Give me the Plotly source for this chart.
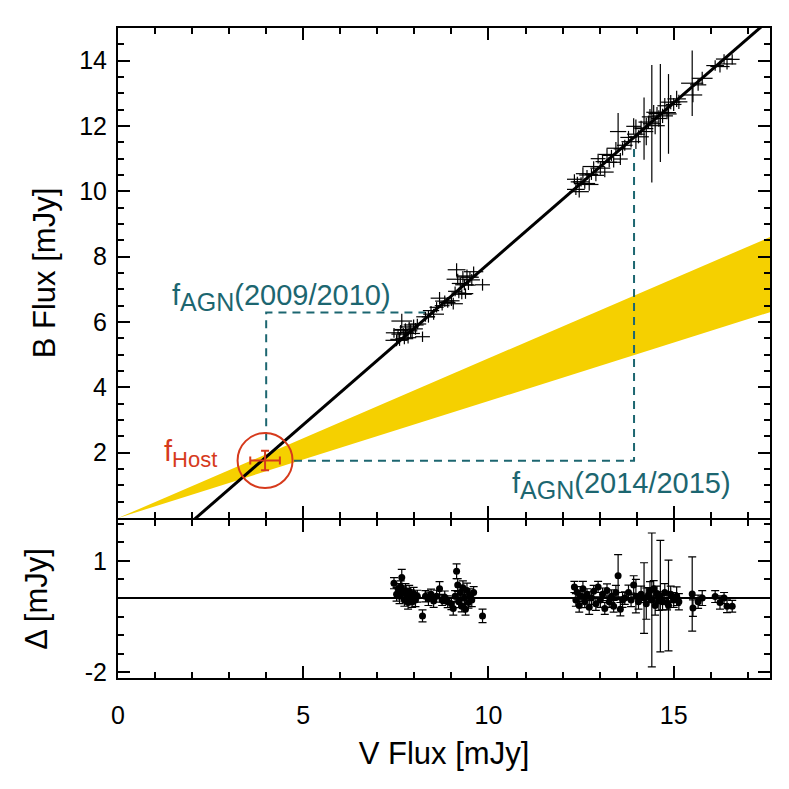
import plotly.graph_objects as go

# V / B light-curve fluxes (mJy)
v_flux = [7.45, 7.52, 7.56, 7.60, 7.63, 7.66, 7.70, 7.73, 7.76, 7.80, 7.83, 7.86, 7.90, 7.94, 7.98, 8.03, 8.08,
          8.22, 8.30, 8.38, 8.45, 8.52, 8.60, 8.68, 8.75, 8.82, 8.90,
          9.00, 9.05, 9.10, 9.14, 9.17, 9.20, 9.24, 9.28, 9.31, 9.35, 9.38, 9.42, 9.46, 9.50, 9.55, 9.60, 9.84,
          12.32, 12.36, 12.40, 12.45, 12.50, 12.55, 12.60, 12.66, 12.72, 12.78, 12.84, 12.90, 12.96, 13.02, 13.08,
          13.14, 13.20, 13.26, 13.32, 13.38, 13.44, 13.50, 13.56, 13.62, 13.68,
          13.78, 13.85, 13.92, 13.98, 14.05, 14.12, 14.20, 14.26, 14.32, 14.36, 14.41, 14.46, 14.50, 14.55, 14.60,
          14.64, 14.70, 14.76, 14.82, 14.86, 14.92, 15.00, 15.08, 15.14,
          15.50, 15.52, 15.66, 15.77, 16.12, 16.25, 16.36, 16.44, 16.58]
v_err = [0.22, 0.30, 0.18, 0.25, 0.20, 0.28, 0.17, 0.24, 0.30, 0.19, 0.22, 0.26, 0.18, 0.21, 0.27, 0.20, 0.24,
         0.20, 0.25, 0.18, 0.22, 0.28, 0.19, 0.24, 0.20, 0.26, 0.21,
         0.22, 0.26, 0.19, 0.24, 0.30, 0.20, 0.23, 0.27, 0.18, 0.25, 0.21, 0.28, 0.19, 0.24, 0.22, 0.26, 0.20,
         0.20, 0.24, 0.18, 0.26, 0.22, 0.19, 0.28, 0.21, 0.25, 0.18, 0.30, 0.22, 0.20, 0.27, 0.19,
         0.24, 0.23, 0.21, 0.26, 0.18, 0.25, 0.22, 0.20, 0.24, 0.21,
         0.22, 0.26, 0.20, 0.24, 0.28, 0.21, 0.25, 0.19, 0.27, 0.22, 0.24, 0.20, 0.26, 0.23, 0.21,
         0.25, 0.28, 0.20, 0.24, 0.22, 0.26, 0.21, 0.25, 0.23,
         0.30, 0.25, 0.22, 0.28, 0.24, 0.26, 0.22, 0.25, 0.20]
b_flux = [5.67, 5.44, 5.63, 5.47, 5.75, 6.03, 5.67, 5.49, 5.77, 5.69, 5.52, 5.85, 5.73, 5.65, 5.91, 5.79, 5.94,
          5.55, 6.16, 6.16, 6.35, 6.24, 6.45, 6.73, 6.50, 6.64, 6.60,
          6.65, 6.56, 6.94, 7.60, 7.31, 6.89, 7.18, 6.85, 7.38, 7.14, 6.87, 7.41, 7.13, 7.37, 7.29, 7.54, 7.14,
          10.37, 10.06, 10.29, 9.99, 10.29, 10.54, 10.24, 10.50, 10.21, 10.52, 10.76, 10.49, 11.00, 10.71, 10.91,
          10.59, 11.13, 10.89, 11.10, 10.89, 11.32, 11.83, 10.99, 11.30, 11.41,
          11.65, 11.52, 11.99, 11.75, 11.67, 11.94, 11.92, 11.83, 12.12, 12.28, 12.07, 12.42, 12.01, 12.38, 12.23,
          12.40, 12.31, 12.62, 12.41, 12.37, 12.73, 12.66, 12.83, 12.74,
          13.31, 12.95, 13.26, 13.46, 13.85, 13.82, 14.05, 13.90, 14.04]
b_err = [0.15, 0.18, 0.14, 0.20, 0.16, 0.22, 0.15, 0.17, 0.19, 0.14, 0.18, 0.16, 0.20, 0.15, 0.17, 0.18, 0.16,
         0.16, 0.15, 0.18, 0.14, 0.17, 0.16, 0.19, 0.15, 0.17, 0.16,
         0.16, 0.18, 0.15, 0.20, 0.17, 0.16, 0.19, 0.15, 0.18, 0.17, 0.16, 0.20, 0.15, 0.17, 0.18, 0.16, 0.18,
         0.15, 0.17, 0.16, 0.18, 0.14, 0.20, 0.16, 0.15, 0.19, 0.17, 0.16, 0.18, 0.15, 0.20, 0.17,
         0.16, 0.18, 0.15, 0.17, 0.16, 0.19, 0.57, 0.18, 0.20, 0.17,
         0.20, 0.18, 0.25, 0.45, 0.20, 0.22, 0.95, 0.42, 0.20, 0.24, 1.80, 0.22, 0.26, 0.20, 0.25,
         1.50, 0.22, 0.24, 0.20, 1.22, 0.22, 0.20, 0.25, 0.22,
         1.00, 0.22, 0.18, 0.20, 0.16, 0.18, 0.15, 0.17, 0.16]
# residuals of B about the fitted line (mJy)
resid = [0.40, 0.10, 0.25, 0.05, 0.30, 0.55, 0.15, -0.05, 0.20, 0.08, -0.12, 0.18, 0.02, -0.10, 0.12, -0.05, 0.05,
         -0.48, 0.05, -0.02, 0.10, -0.08, 0.05, 0.25, -0.05, 0.02, -0.10,
         -0.15, -0.28, 0.05, 0.72, 0.35, -0.10, 0.15, -0.22, 0.28, 0.00, -0.30, 0.20, -0.12, 0.08, -0.05, 0.15, -0.48,
         0.30, -0.05, 0.15, -0.20, 0.05, 0.25, -0.10, 0.10, -0.25, 0.00, 0.18, -0.15, 0.30, -0.05, 0.10,
         -0.28, 0.20, -0.10, 0.05, -0.22, 0.15, 0.60, -0.30, -0.05, 0.00,
         0.15, -0.05, 0.35, 0.05, -0.10, 0.10, 0.00, -0.15, 0.08, 0.20, -0.05, 0.25, -0.20, 0.12, -0.08,
         0.05, -0.10, 0.15, -0.12, -0.20, 0.10, -0.05, 0.05, -0.10,
         0.11, -0.27, -0.10, 0.00, 0.04, -0.12, 0.00, -0.22, -0.22]

# fitted flux-variation line
fit_v = [0.0, 17.6]
fit_b = [-2.07, 15.27]

# host galaxy colour range (yellow wedge)
band_v = [0.0, 17.6]
band_lo = [0.0, 6.3]
band_hi = [0.0, 8.6]

# host flux point
host_v, host_b = [3.97], [1.76]
host_verr, host_berr = [0.40], [0.30]

# AGN flux guides
agn1_v, agn1_b = [4.0, 4.0, 8.3], [2.38, 6.29, 6.29]
agn2_v, agn2_b = [4.75, 13.93, 13.93], [1.75, 1.75, 11.4]

TEAL = "#1c6670"
RED = "#d63a1c"
YELLOW = "#f5d000"
FONT = "Liberation Sans, Arial, sans-serif"

fig = go.Figure()

fig.add_trace(go.Scatter(x=band_v, y=band_lo, mode="lines", line=dict(width=0, color=YELLOW),
                         hoverinfo="skip", showlegend=False))
fig.add_trace(go.Scatter(x=band_v, y=band_hi, mode="lines", line=dict(width=0, color=YELLOW),
                         fill="tonexty", fillcolor=YELLOW, hoverinfo="skip", showlegend=False))

fig.add_trace(go.Scatter(x=agn1_v, y=agn1_b, mode="lines",
                         line=dict(color=TEAL, width=2, dash="8px,6px"), showlegend=False))
fig.add_trace(go.Scatter(x=agn2_v, y=agn2_b, mode="lines",
                         line=dict(color=TEAL, width=2, dash="8px,6px"), showlegend=False))

fig.add_trace(go.Scatter(x=fit_v, y=fit_b, mode="lines", line=dict(color="black", width=3),
                         showlegend=False))

fig.add_trace(go.Scatter(
    x=v_flux, y=b_flux, mode="markers", marker=dict(size=1, color="black"),
    error_x=dict(type="data", array=v_err, color="black", thickness=1.2, width=0),
    error_y=dict(type="data", array=b_err, color="black", thickness=1.2, width=0),
    showlegend=False))

fig.add_trace(go.Scatter(
    x=host_v, y=host_b, mode="markers", marker=dict(size=2, color=RED),
    error_x=dict(type="data", array=host_verr, color=RED, thickness=2, width=4),
    error_y=dict(type="data", array=host_berr, color=RED, thickness=2, width=4),
    showlegend=False))
fig.add_trace(go.Scatter(
    x=host_v, y=host_b, mode="markers",
    marker=dict(size=55, symbol="circle-open", color=RED, line=dict(width=2, color=RED)),
    showlegend=False))

# residual panel
fig.add_trace(go.Scatter(x=fit_v, y=[0, 0], mode="lines", line=dict(color="black", width=2),
                         xaxis="x2", yaxis="y2", showlegend=False))
fig.add_trace(go.Scatter(
    x=v_flux, y=resid, mode="markers", marker=dict(size=7, color="black"),
    error_y=dict(type="data", array=b_err, color="black", thickness=1.2, width=4),
    xaxis="x2", yaxis="y2", showlegend=False))

axis_common = dict(showline=True, linewidth=2, linecolor="black", mirror="ticks", ticks="inside",
                   ticklen=12, tickwidth=1.5, tickcolor="black", showgrid=False, zeroline=False,
                   automargin=False, tickfont=dict(family=FONT, size=25, color="black"))
minor_x = dict(dtick=1, ticklen=6, ticks="inside", tickcolor="black", tickwidth=1.5)
minor_y = dict(dtick=0.5, tick0=0, ticklen=6, ticks="inside", tickcolor="black", tickwidth=1.5)
title_font = dict(family=FONT, size=31, color="black")

fig.update_layout(
    width=789, height=789,
    margin=dict(l=110, r=27, t=20, b=119),
    plot_bgcolor="white", paper_bgcolor="white",
    font=dict(family=FONT, color="black"),
    xaxis=dict(axis_common, range=[0, 17.6], anchor="y", showticklabels=False, dtick=5, tick0=0,
               minor=minor_x),
    yaxis=dict(axis_common, range=[0, 15], domain=[0.2461, 1], tickvals=[2, 4, 6, 8, 10, 12, 14],
               minor=minor_y, ticklabelstandoff=4,
               title=dict(text="B Flux [mJy]", font=title_font, standoff=14)),
    xaxis2=dict(axis_common, range=[0, 17.6], anchor="y2", matches="x", dtick=5, tick0=0,
                minor=minor_x, ticklabelstandoff=14,
                title=dict(text="V Flux [mJy]", font=title_font, standoff=14)),
    yaxis2=dict(axis_common, range=[-2.15, 2.1], domain=[0, 0.2431], tickvals=[-2, 1], ticktext=["-2", "1"],
                minor=minor_y, ticklabelstandoff=4,
                title=dict(text="Δ [mJy]", font=title_font, standoff=28)),
)

fig.add_annotation(x=4.42, y=6.75, xref="x", yref="y", showarrow=False,
                   text="f<sub><span style='font-size:25px'>AGN</span></sub>(2009/2010)",
                   font=dict(family=FONT, size=29, color=TEAL))
fig.add_annotation(x=13.6, y=1.0, xref="x", yref="y", showarrow=False,
                   text="f<sub><span style='font-size:25px'>AGN</span></sub>(2014/2015)",
                   font=dict(family=FONT, size=29, color=TEAL))
fig.add_annotation(x=1.97, y=1.98, xref="x", yref="y", showarrow=False,
                   text="f<sub><span style='font-size:22px'>Host</span></sub>",
                   font=dict(family=FONT, size=29, color=RED))

fig.write_html("out.html")
